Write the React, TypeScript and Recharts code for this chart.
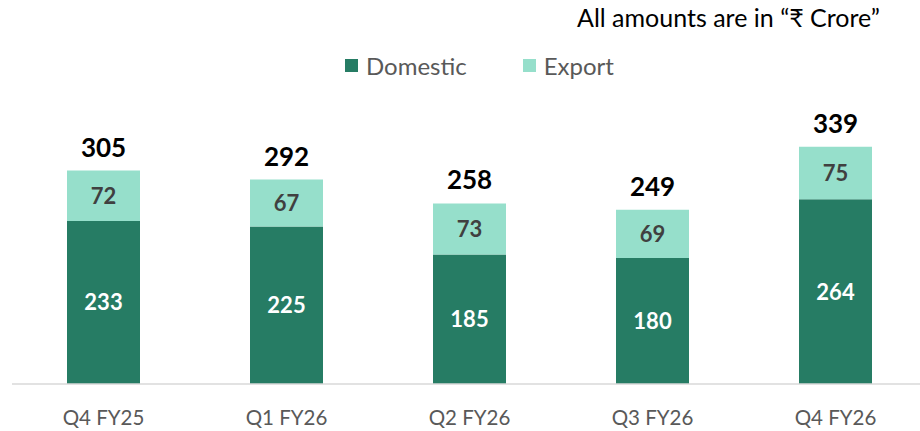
import { BarChart, Bar, XAxis, YAxis, LabelList } from 'recharts';

const categories = ['Q4 FY25', 'Q1 FY26', 'Q2 FY26', 'Q3 FY26', 'Q4 FY26'];
const domestic = [233, 225, 185, 180, 264];
const exportVals = [72, 67, 73, 69, 75];
const totals = [305, 292, 258, 249, 339];

const DOMESTIC = '#267C64';
const EXPORT = '#96DFCB';
const FONT = 'Lato, "Open Sans", sans-serif';

const data = categories.map((name, i) => ({
  name,
  domestic: domestic[i],
  export: exportVals[i],
  total: totals[i],
}));

const TotalLabel = (props: any) => {
  const { x, y, width, value } = props;
  return (
    <text x={x + width / 2} y={y - 14} textAnchor="middle" fill="#000" fontSize={26} fontWeight={700} fontFamily={FONT}>
      {value}
    </text>
  );
};

const InnerLabel = (color: string) => (props: any) => {
  const { x, y, width, height, value } = props;
  return (
    <text x={x + width / 2} y={y + height / 2} dy={8} textAnchor="middle" fill={color} fontSize={22} fontWeight={700} fontFamily={FONT}>
      {value}
    </text>
  );
};

export default function App() {
  return (
    <div style={{ position: 'absolute', left: 0, top: 0, width: 920, height: 431, overflow: 'hidden', background: '#fff' }}>
      <div style={{ position: 'absolute', right: 40, top: 2, fontFamily: FONT, fontSize: 25, color: '#000' }}>
        All amounts are in “₹ Crore”
      </div>
      <div style={{ position: 'absolute', left: 345, top: 51, display: 'flex', alignItems: 'center', fontFamily: FONT, fontSize: 24, color: '#595959' }}>
        <span style={{ width: 13, height: 13, background: DOMESTIC, marginRight: 8 }} />
        <span style={{ marginRight: 56 }}>Domestic</span>
        <span style={{ width: 13, height: 13, background: EXPORT, marginRight: 8 }} />
        <span>Export</span>
      </div>
      <BarChart width={930} height={431} data={data} margin={{ top: 104, right: 3, left: 12, bottom: 0 }} barCategoryGap={55}>
        <XAxis
          dataKey="name"
          axisLine={{ stroke: '#D9D9D9', strokeWidth: 1.5 }}
          tickLine={false}
          height={47}
          tickMargin={20}
          tick={{ fontSize: 20.5, fill: '#595959', fontFamily: FONT }}
        />
        <YAxis hide domain={[0, 400]} />
        <Bar dataKey="domestic" stackId="a" fill={DOMESTIC} isAnimationActive={false}>
          <LabelList dataKey="domestic" content={InnerLabel('#fff')} />
        </Bar>
        <Bar dataKey="export" stackId="a" fill={EXPORT} isAnimationActive={false}>
          <LabelList dataKey="export" content={InnerLabel('#404040')} />
          <LabelList dataKey="total" content={TotalLabel} />
        </Bar>
      </BarChart>
    </div>
  );
}
